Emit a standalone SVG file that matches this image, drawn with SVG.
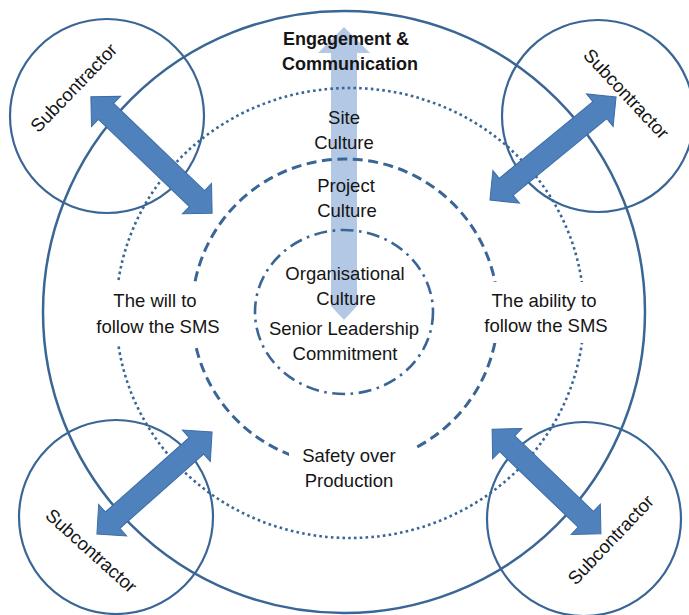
<svg xmlns="http://www.w3.org/2000/svg" width="689" height="615" viewBox="0 0 689 615">
<style>
.ring{fill:none;stroke:#3a6696}
.solid{stroke-width:2.5}
.dot{stroke-width:2.6;stroke-dasharray:2.6 3.2}
.dash{stroke-width:3;stroke-dasharray:10 5.5}
.dashdot{stroke-width:2.6;stroke-dasharray:13 5.5 2.6 5.5}
.sub{fill:none;stroke:#3a6696;stroke-width:2.2}
.arr{fill:#4f81bd;stroke:#3d6da6;stroke-width:1}
.t{font-family:"Liberation Sans",Arial,sans-serif;font-size:18.5px;fill:#151515;text-anchor:middle}
.b{font-weight:bold;font-size:18px}
.bg{fill:#ffffff}
</style>
<rect width="689" height="615" fill="#ffffff"/>
<g id="engagement-arrow">
<polygon points="344,27 370,53 357,53 357,306 344,320 331,306 331,53 318,53" fill="#b3c8e5"/>
</g>
<g id="rings">
<circle id="outer-ring" class="ring solid" cx="344" cy="312" r="301"/>
<ellipse id="site-ring" class="ring dot" cx="350" cy="313" rx="234" ry="225"/>
<circle id="project-ring" class="ring dash" cx="345" cy="312" r="153"/>
<ellipse id="org-ring" class="ring dashdot" cx="344" cy="312" rx="89" ry="82"/>
</g>
<g id="label-engagement">
<text class="t b" x="346" y="45">Engagement &amp;</text>
<text class="t b" x="350" y="70">Communication</text>
</g>
<g id="label-site">
<text class="t" x="344" y="124">Site</text>
<text class="t" x="344" y="149">Culture</text>
</g>
<g id="label-project">
<text class="t" x="346" y="192">Project</text>
<text class="t" x="347" y="217">Culture</text>
</g>
<g id="label-org">
<text class="t" x="345" y="280">Organisational</text>
<text class="t" x="346" y="305">Culture</text>
<text class="t" x="344" y="335">Senior Leadership</text>
<text class="t" x="345" y="360">Commitment</text>
</g>
<g id="label-will">
<rect class="bg" x="88" y="283" width="140" height="61"/>
<text class="t" x="155" y="307">The will to</text>
<text class="t" x="158" y="333">follow the SMS</text>
</g>
<g id="label-ability">
<rect class="bg" x="474" y="282" width="144" height="61"/>
<text class="t" x="544" y="307">The ability to</text>
<text class="t" x="546" y="332">follow the SMS</text>
</g>
<g id="label-safety">
<rect class="bg" x="289" y="440" width="127" height="54"/>
<text class="t" x="349" y="462">Safety over</text>
<text class="t" x="349" y="487">Production</text>
</g>
<g id="sub-tl">
<circle class="sub" cx="107" cy="116" r="97"/>
<text class="t" transform="translate(74,88) rotate(-46)" x="0" y="6">Subcontractor</text>
</g>
<g id="sub-tr">
<circle class="sub" cx="598" cy="116" r="96"/>
<text class="t" transform="translate(626,94) rotate(47)" x="0" y="6">Subcontractor</text>
</g>
<g id="sub-bl">
<circle class="sub" cx="116" cy="517" r="97"/>
<text class="t" transform="translate(91,551) rotate(42)" x="0" y="6">Subcontractor</text>
</g>
<g id="sub-br">
<circle class="sub" cx="584" cy="519" r="97"/>
<text class="t" transform="translate(611,540) rotate(-46.5)" x="0" y="6">Subcontractor</text>
</g>
<g id="connectors">
<polygon class="arr" transform="translate(151.5,155) rotate(43.8)" points="-84,0 -63,-21 -63,-11 63,-11 63,-21 84,0 63,21 63,11 -63,11 -63,21"/>
<polygon class="arr" transform="translate(553,148.5) rotate(-39.3)" points="-81.5,0 -60.5,-21 -60.5,-11 60.5,-11 60.5,-21 81.5,0 60.5,21 60.5,11 -60.5,11 -60.5,21"/>
<polygon class="arr" transform="translate(154.5,483) rotate(-41.6)" points="-77,0 -56,-21 -56,-11 56,-11 56,-21 77,0 56,21 56,11 -56,11 -56,21"/>
<polygon class="arr" transform="translate(546.5,481.5) rotate(43.9)" points="-75.5,0 -54.5,-21 -54.5,-11 54.5,-11 54.5,-21 75.5,0 54.5,21 54.5,11 -54.5,11 -54.5,21"/>
</g>
</svg>
